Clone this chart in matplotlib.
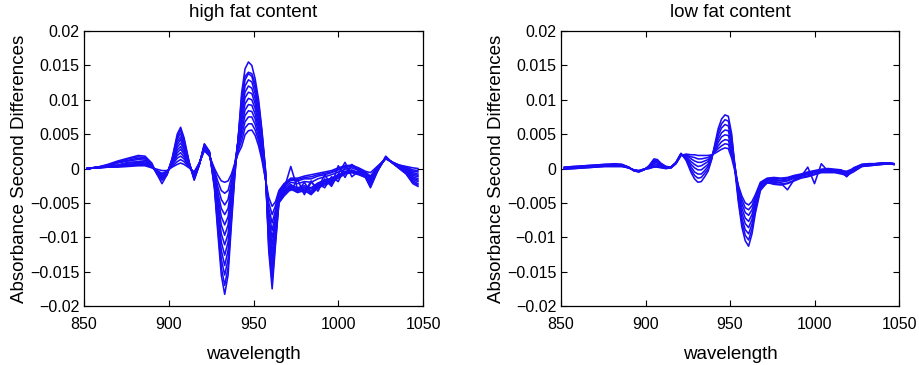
import matplotlib
matplotlib.use("Agg")
import matplotlib.pyplot as plt

plt.rcParams['font.family'] = ['Liberation Sans', 'DejaVu Sans']

# wavelength grid (nm) shared by all curves
wl = [852, 858, 864, 870, 876, 882, 886, 890, 893, 896, 899, 902, 905, 907, 909, 912,
      915, 918, 921, 924, 927, 929, 931, 933, 935, 937, 939, 941, 943, 945, 947, 949,
      951, 953, 955, 957, 959, 961, 963, 965, 968, 972, 976, 980, 984, 988, 992, 996,
      1000, 1004, 1008, 1012, 1016, 1019, 1023, 1028, 1032, 1036, 1040, 1044, 1047]

# second differences, units of 1e-3, one row per spectrum
high_fat = [
    [0.0, 0.2, 0.6, 1.1, 1.5, 1.9, 1.8, 0.8, -0.8, -2.2, -0.9, 1.5, 5.0, 6.0, 4.5, 1.0,
     -1.7, 0.5, 3.6, 2.5, -3.0, -9.5, -15.5, -18.3, -15.5, -8.0, -1.0, 4.5, 11.0, 14.5, 15.5, 15.0,
     13.0, 10.0, 5.5, 0.0, -12.0, -17.5, -11.0, -5.0, -4.0, -3.0, -3.5, -3.2, -3.8, -2.8, -2.4, -2.0,
     -1.4, -0.8, -0.6, -0.9, -1.3, -2.8, -0.5, 1.8, 0.8, 0.0, -0.8, -2.2, -2.6],
    [0.0, 0.2, 0.5, 1.0, 1.4, 1.7, 1.6, 0.6, -0.8, -1.7, -0.9, 1.4, 4.6, 5.6, 4.2, 0.9,
     -1.6, 0.5, 3.5, 2.4, -2.8, -8.8, -14.4, -17.0, -14.4, -7.3, -0.7, 4.4, 10.4, 13.4, 14.0, 13.8,
     12.3, 9.5, 5.2, -0.1, -11.4, -16.5, -10.5, -4.9, -3.9, -2.9, -3.3, -3.0, -3.6, -2.6, -2.2, -1.9,
     -1.3, -0.7, -0.5, -0.8, -1.2, -2.6, -0.4, 1.7, 0.8, 0.0, -0.7, -2.0, -2.4],
    [0.0, 0.2, 0.4, 0.9, 1.2, 1.5, 1.4, 0.5, -0.7, -1.6, -0.8, 1.3, 4.3, 5.1, 3.8, 0.8,
     -1.5, 0.6, 3.4, 2.4, -2.5, -8.1, -13.2, -15.5, -13.2, -6.6, -0.4, 4.4, 9.7, 12.9, 13.8, 13.4,
     11.6, 8.9, 4.8, -0.3, -10.7, -15.5, -9.9, -4.7, -3.7, -2.7, -3.1, -2.8, -3.3, -2.4, -2.1, -1.7,
     -1.1, -0.6, -0.4, -0.7, -1.1, -2.4, -0.4, 1.6, 0.8, 0.1, -0.6, -1.8, -2.2],
    [0.0, 0.2, 0.3, 0.8, 1.1, 1.3, 1.2, 0.4, -0.6, -1.5, -0.7, 1.2, 3.9, 4.6, 3.5, 0.8,
     -1.4, 0.6, 3.3, 2.3, -2.2, -7.3, -11.9, -14.1, -11.9, -5.8, -0.1, 4.3, 9.0, 12.0, 12.9, 12.6,
     10.9, 8.3, 4.4, -0.4, -10.0, -14.4, -9.4, -4.5, -3.5, -2.6, -3.0, -2.7, -3.0, -2.3, -1.9, -1.6,
     -1.0, -0.5, -0.3, -0.6, -1.1, -2.2, -0.3, 1.6, 0.8, 0.1, -0.5, -1.6, -1.9],
    [0.0, 0.2, 0.3, 0.5, 0.9, 1.0, 1.0, 0.3, -0.6, -1.4, -0.7, 1.0, 3.5, 4.2, 3.1, 0.7,
     -1.3, 0.6, 3.2, 2.3, -2.0, -6.5, -10.7, -12.6, -10.7, -5.1, 0.2, 4.2, 8.3, 11.1, 12.0, 11.7,
     10.1, 7.7, 4.0, -0.5, -9.3, -13.3, -8.8, -4.4, -3.4, -2.4, -2.8, -2.5, -2.8, -2.1, -1.7, -1.4,
     -0.9, -0.4, -0.2, -0.6, -1.0, -2.0, -0.2, 1.5, 0.8, 0.2, -0.4, -1.4, -1.7],
    [0.0, 0.2, 0.3, 0.5, 0.8, 0.9, 0.8, 0.3, -0.5, -1.3, -0.6, 0.9, 3.1, 3.7, 2.8, 0.6,
     -1.2, 0.6, 3.2, 2.2, -1.7, -5.8, -9.5, -11.1, -9.5, -4.3, 0.5, 4.1, 7.6, 10.3, 11.1, 10.9,
     9.4, 7.1, 3.6, -0.7, -8.6, -12.2, -8.3, -4.2, -3.2, -2.3, -3.4, -2.0, -3.6, -2.2, -2.8, -1.2,
     -1.9, 0.2, -0.6, -0.5, -0.9, -1.9, -0.1, 1.5, 0.9, 0.2, -0.3, -1.2, -1.5],
    [0.0, 0.1, 0.3, 0.4, 0.6, 0.7, 0.7, 0.2, -0.5, -1.2, -0.6, 0.8, 2.7, 3.2, 2.4, 0.5,
     -1.1, 0.7, 3.1, 2.1, -1.4, -5.0, -8.2, -9.7, -8.2, -3.6, 0.7, 4.1, 6.9, 9.4, 10.2, 10.0,
     8.7, 6.4, 3.2, -0.8, -7.9, -11.1, -7.7, -4.0, -3.0, 0.3, -3.0, -3.5, -1.8, -3.3, -1.5, -2.6,
     -0.8, 0.9, -1.2, -0.4, -0.8, -1.7, -0.1, 1.5, 0.9, 0.3, -0.2, -1.0, -1.2],
    [0.0, 0.1, 0.3, 0.4, 0.6, 0.7, 0.7, 0.2, -0.4, -1.1, -0.5, 0.7, 2.3, 2.8, 2.1, 0.4,
     -1.0, 0.7, 3.0, 2.1, -1.1, -4.2, -7.0, -8.2, -7.0, -3.2, 0.5, 3.5, 6.2, 8.5, 9.3, 9.2,
     7.9, 5.8, 2.8, -0.9, -7.2, -10.1, -7.2, -3.9, -2.9, -2.0, -2.2, -1.9, -2.0, -1.5, -1.2, -0.9,
     -0.5, -0.1, 0.1, -0.3, -0.7, -1.5, 0.0, 1.5, 0.9, 0.3, -0.1, -0.8, -1.0],
    [0.0, 0.1, 0.3, 0.4, 0.5, 0.6, 0.6, 0.2, -0.4, -1.0, -0.5, 0.6, 1.9, 2.3, 1.7, 0.4,
     -0.8, 0.7, 2.9, 2.0, -0.9, -3.5, -5.8, -6.7, -5.8, -2.6, 0.5, 3.2, 5.5, 7.7, 8.4, 8.3,
     7.2, 5.2, 2.4, -1.1, -6.5, -9.0, -6.6, -3.7, -2.7, -3.2, -1.6, -3.8, -2.0, -2.9, -0.9, -2.4,
     0.4, -1.3, 0.6, -0.2, -0.7, -1.3, 0.1, 1.5, 0.9, 0.4, 0.0, -0.6, -0.8],
    [0.0, 0.1, 0.2, 0.4, 0.5, 0.6, 0.6, 0.2, -0.3, -0.8, -0.4, 0.5, 1.5, 1.8, 1.4, 0.3,
     -0.7, 0.7, 2.8, 1.9, -0.6, -2.7, -4.5, -5.3, -4.5, -2.0, 0.5, 3.0, 4.8, 6.8, 7.5, 7.5,
     6.4, 4.6, 2.1, -1.2, -5.8, -7.9, -6.0, -3.6, -2.6, -1.7, -1.8, -1.5, -1.5, -1.1, -0.9, -0.6,
     -0.2, 0.2, 0.3, -0.1, -0.6, -1.2, 0.1, 1.5, 0.9, 0.4, 0.1, -0.4, -0.5],
    [0.0, 0.1, 0.2, 0.3, 0.5, 0.5, 0.5, 0.2, -0.3, -0.7, -0.4, 0.3, 1.0, 1.3, 1.0, 0.2,
     -0.6, 0.8, 2.7, 1.9, -0.3, -1.9, -3.2, -3.6, -3.2, -1.3, 0.6, 2.6, 4.0, 5.9, 6.5, 6.5,
     5.6, 4.0, 1.6, -1.4, -5.0, -6.7, -5.4, -3.4, -2.4, -1.6, -1.6, -1.3, -1.2, -0.9, -0.7, -0.5,
     -0.1, 0.3, 0.4, 0.0, -0.5, -1.1, 0.2, 1.5, 0.9, 0.5, 0.2, -0.2, -0.3],
    [0.0, 0.1, 0.2, 0.2, 0.3, 0.4, 0.4, 0.1, -0.1, -0.3, -0.3, 0.2, 0.6, 0.8, 0.6, 0.1,
     -0.5, 0.8, 2.6, 1.8, 0.0, -1.0, -1.8, -2.0, -1.8, -0.8, 0.8, 2.2, 3.2, 4.9, 5.5, 5.6,
     4.8, 3.3, 1.2, -1.5, -4.2, -5.5, -4.8, -3.2, -2.2, -1.4, -1.4, -1.1, -0.9, -0.7, -0.5, -0.3,
     0.1, 0.4, 0.5, 0.1, -0.4, -0.6, 0.3, 1.4, 0.9, 0.5, 0.3, 0.1, 0.0],
]

low_fat = [
    [0.2, 0.3, 0.4, 0.5, 0.6, 0.7, 0.6, 0.2, -0.3, -0.5, -0.2, 0.4, 1.4, 1.3, 0.8, 0.3,
     0.2, 0.9, 2.2, 1.2, -0.6, -1.5, -2.0, -1.9, -1.2, -0.4, 1.2, 3.5, 5.8, 7.2, 7.8, 7.6,
     5.0, -0.5, -5.0, -8.5, -10.5, -11.3, -9.5, -6.5, -3.2, -2.0, -2.3, -2.4, -2.2, -1.8, -1.4, -1.2,
     -0.9, -0.6, -0.6, -0.6, -0.8, -1.0, -0.5, 0.3, 0.4, 0.5, 0.6, 0.7, 0.6],
    [0.2, 0.3, 0.4, 0.5, 0.6, 0.6, 0.6, 0.2, -0.3, -0.5, -0.2, 0.3, 1.2, 1.1, 0.7, 0.3,
     0.2, 0.9, 2.2, 1.3, -0.2, -1.0, -1.4, -1.3, -0.7, -0.1, 1.3, 3.3, 5.3, 6.5, 7.1, 6.9,
     4.5, 0.3, -4.6, -7.8, -9.7, -10.4, -8.8, -6.1, -2.9, -2.1, -2.2, -2.3, -2.1, -1.7, -1.3, -1.1,
     -0.8, -0.5, -0.5, -0.5, -0.7, -0.9, -0.4, 0.3, 0.4, 0.5, 0.6, 0.7, 0.6],
    [0.1, 0.2, 0.3, 0.4, 0.5, 0.6, 0.5, 0.2, -0.3, -0.4, -0.2, 0.3, 1.0, 1.0, 0.6, 0.2,
     0.2, 0.8, 2.1, 1.5, 0.2, -0.5, -0.8, -0.8, -0.3, 0.3, 1.4, 3.1, 4.8, 5.9, 6.4, 6.2,
     4.0, 0.0, -4.3, -7.2, -8.9, -9.5, -8.1, -5.7, -2.8, -2.0, -2.0, -2.1, -3.1, -1.6, -1.2, 0.2,
     -2.2, 0.7, -0.4, -0.5, -0.6, -0.8, -0.3, 0.4, 0.5, 0.6, 0.7, 0.7, 0.6],
    [0.1, 0.2, 0.3, 0.4, 0.5, 0.5, 0.5, 0.2, -0.3, -0.4, -0.2, 0.2, 0.9, 0.8, 0.5, 0.2,
     0.2, 0.8, 2.1, 1.6, 0.6, 0.1, -0.2, -0.2, 0.2, 0.6, 1.6, 2.9, 4.3, 5.2, 5.6, 5.5,
     3.4, -0.3, -3.9, -6.5, -8.0, -8.6, -7.4, -5.3, -2.6, -1.8, -1.9, -2.0, -1.8, -1.4, -1.1, -0.9,
     -0.6, -0.4, -0.3, -0.4, -0.5, -1.2, -0.2, 0.4, 0.5, 0.6, 0.7, 0.7, 0.6],
    [0.0, 0.1, 0.2, 0.3, 0.4, 0.5, 0.4, 0.1, -0.2, -0.4, -0.1, 0.2, 0.7, 0.6, 0.4, 0.1,
     0.1, 0.8, 2.0, 1.7, 1.0, 0.6, 0.3, 0.4, 0.7, 1.0, 1.7, 2.7, 3.8, 4.6, 4.9, 4.8,
     2.9, 0.2, -3.5, -5.8, -7.2, -7.7, -6.7, -4.9, -2.4, -1.7, -1.7, -1.8, -1.7, -1.3, -1.0, -0.8,
     -0.5, -0.3, -0.2, -0.3, -0.4, -0.6, -0.1, 0.5, 0.6, 0.6, 0.7, 0.8, 0.7],
    [0.0, 0.1, 0.2, 0.3, 0.4, 0.4, 0.4, 0.1, -0.2, -0.4, -0.1, 0.1, 0.5, 0.5, 0.3, 0.1,
     0.1, 0.8, 2.0, 1.9, 1.4, 1.1, 0.9, 0.9, 1.1, 1.3, 1.8, 2.5, 3.3, 3.9, 4.2, 4.1,
     2.4, -0.2, -3.1, -5.1, -6.4, -6.8, -6.0, -4.5, -2.3, -1.6, -1.6, -1.7, -1.5, -1.2, -0.9, -0.7,
     -0.5, -0.2, -0.2, -0.2, -0.4, -0.5, -0.1, 0.5, 0.6, 0.7, 0.8, 0.8, 0.7],
    [-0.1, 0.0, 0.1, 0.2, 0.3, 0.3, 0.3, 0.1, -0.2, -0.3, -0.1, 0.0, 0.3, 0.3, 0.2, 0.0,
     0.1, 0.7, 1.9, 2.0, 1.7, 1.6, 1.4, 1.4, 1.5, 1.6, 1.9, 2.4, 2.9, 3.3, 3.6, 3.5,
     1.9, 0.1, -2.8, -4.5, -5.7, -6.0, -5.4, -4.1, -2.1, -1.5, -1.4, -1.5, -1.4, -1.1, -0.9, -0.6,
     -0.4, -0.2, -0.1, -0.2, -0.3, -0.4, 0.0, 0.6, 0.7, 0.7, 0.8, 0.8, 0.7],
    [-0.1, 0.0, 0.1, 0.2, 0.3, 0.3, 0.3, 0.1, -0.2, -0.3, -0.1, 0.0, 0.2, 0.2, 0.1, 0.0,
     0.1, 0.7, 1.9, 2.1, 2.0, 2.0, 1.9, 1.9, 1.9, 1.9, 2.0, 2.2, 2.5, 2.8, 3.0, 2.9,
     1.5, -0.5, -2.5, -4.0, -5.0, -5.3, -4.8, -3.8, -2.0, -1.4, -1.3, -1.4, -1.3, -1.0, -0.8, -0.5,
     -0.3, -0.1, 0.0, -0.1, -0.2, -1.1, 0.1, 0.6, 0.7, 0.7, 0.8, 0.8, 0.7],
]

titles = ['high fat content', 'low fat content']
yticks = [-0.02, -0.015, -0.01, -0.005, 0, 0.005, 0.01, 0.015, 0.02]
ytick_labels = ['\u22120.02', '\u22120.015', '\u22120.01', '\u22120.005', '0',
                '0.005', '0.01', '0.015', '0.02']
xticks = [850, 900, 950, 1000, 1050]

fig = plt.figure(figsize=(9.2, 3.65), dpi=100)
ax1 = fig.add_axes([0.0913, 0.1616, 0.3685, 0.7534])
ax2 = fig.add_axes([0.6098, 0.1616, 0.3674, 0.7534])

for ax, curves, title in zip([ax1, ax2], [high_fat, low_fat], titles):
    for c in curves:
        ax.plot(wl, [v * 1e-3 for v in c], color='#1a0cf5', lw=1.15)
    ax.set_xlim(850, 1050)
    ax.set_ylim(-0.02, 0.02)
    ax.set_xticks(xticks)
    ax.set_yticks(yticks)
    ax.set_yticklabels(ytick_labels)
    ax.tick_params(direction='in', top=True, right=True, length=4, labelsize=11.5)
    ax.tick_params(axis='x', pad=8)
    ax.tick_params(axis='y', pad=3.5)
    ax.set_xlabel('wavelength', fontsize=13.5, labelpad=10)
    ax.set_ylabel('Absorbance Second Differences', fontsize=13.5, labelpad=1.5)
    ax.set_title(title, fontsize=13.5, pad=10)
    for s in ax.spines.values():
        s.set_linewidth(0.9)

fig.savefig('out.png', dpi=100)
